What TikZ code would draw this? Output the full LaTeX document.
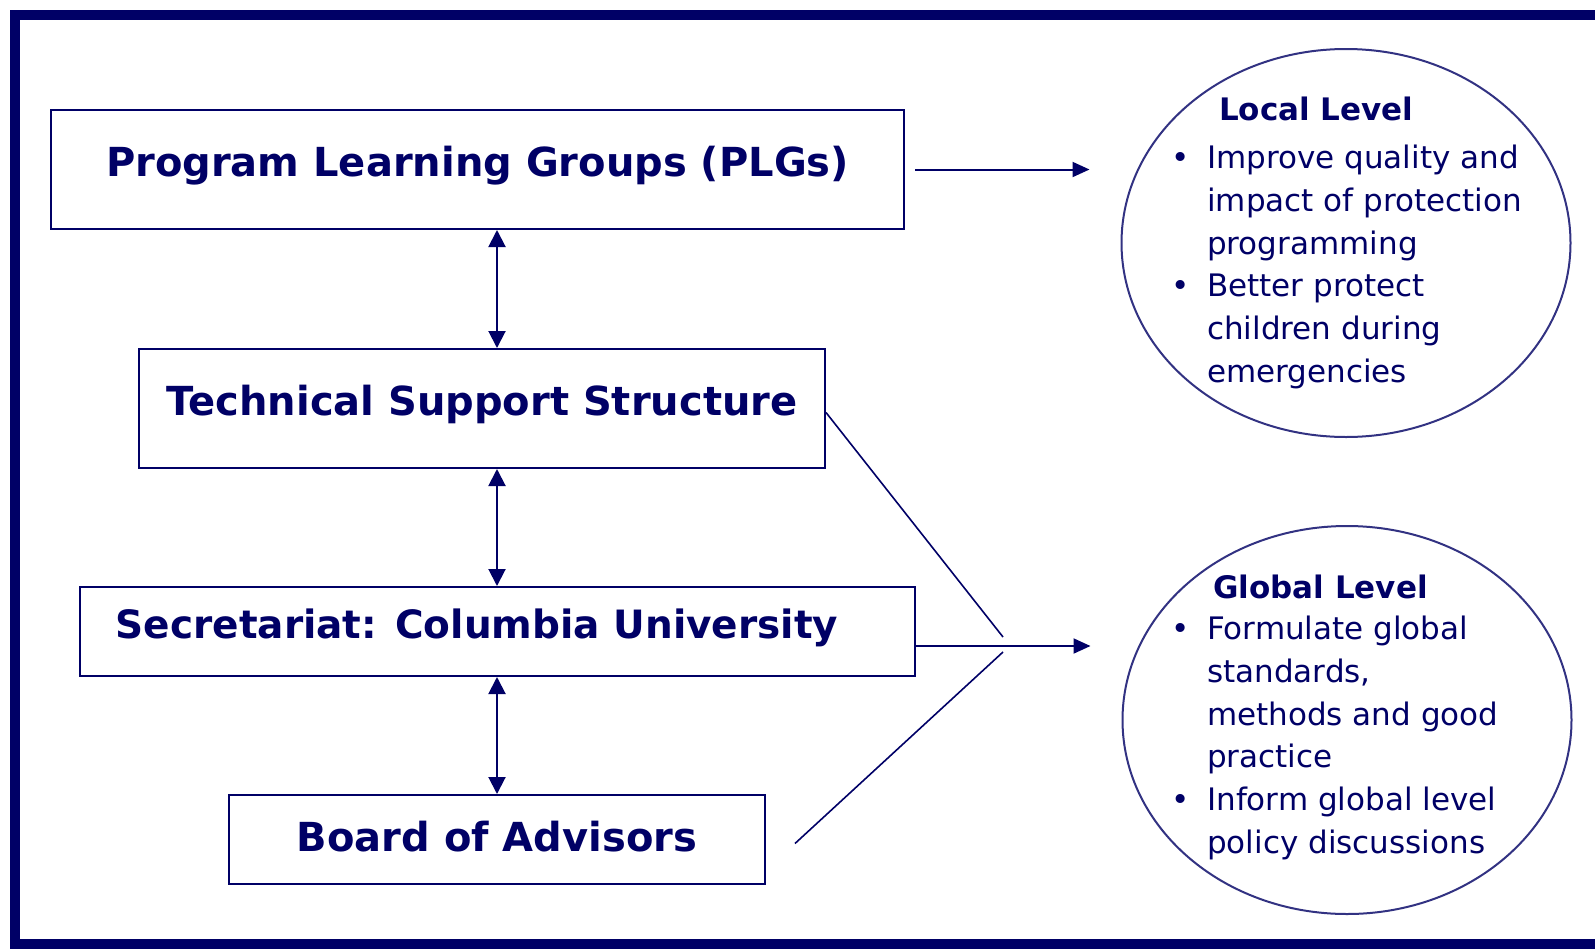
\documentclass[tikz,border=0pt]{standalone}
\usepackage{fontspec}
\setmainfont{DejaVu Sans}
\usetikzlibrary{arrows.meta}
\usetikzlibrary{shapes.geometric}
\definecolor{navy}{RGB}{0,0,102}
\definecolor{rimblue}{RGB}{50,50,130}
\tikzset{%
	frame/.style={line width=10pt,color=navy},
	unitbox/.style={draw=navy,line width=2pt,inner sep=0pt,text=navy,text height=29pt,text depth=15pt,font=\fontsize{40}{48}\selectfont\bfseries},
	levelbubble/.style={ellipse,draw=rimblue,line width=2pt,minimum width=449pt,minimum height=388pt},
	leveltext/.style={align=left,anchor=north west,inner sep=0pt,text=navy,font=\fontsize{31}{42.8}\selectfont},
	link/.style={navy,line width=2pt},
	dblarrow/.style={link,{Triangle[length=17pt,width=17pt]}-{Triangle[length=17pt,width=17pt]}},
	onearrow/.style={link,-{Triangle[length=17pt,width=15pt]}},
	slant/.style={navy,line width=1.6pt}
}
\newcommand{\bul}{\makebox[36pt][l]{\textbullet}}
\newcommand{\cont}{\hspace*{36pt}}

\begin{document}
\begin{tikzpicture}[x=1pt,y=-1pt]
		\useasboundingbox (0,0) rectangle (1595,948);

		\draw [frame] (1605,15)--(15,15)--(15,944)--(1605,944);

		\node [unitbox,minimum width=853pt,minimum height=119pt] (plg) at (477.5,169.5) {Program Learning Groups (PLGs)};
		\node [unitbox,minimum width=686pt,minimum height=119pt] (tss) at (482,408.5) {Technical Support Structure};
		\node [unitbox,minimum width=835pt,minimum height=89pt,font=\fontsize{39}{48}\selectfont\bfseries] (sec) at (497.5,631.5) {Secretariat: Columbia University\hspace*{41pt}\mbox{}};
		\node [unitbox,minimum width=536pt,minimum height=89pt,text depth=5pt] (board) at (497,839.5) {Board of Advisors};

		\node [levelbubble] (local) at (1346,243) {};
		\node [levelbubble] (global) at (1347,720) {};

		\node [leveltext] (localtxt) at (1171,97) {\hspace*{48pt}\textbf{Local Level}\\[5pt]
			\bul Improve quality and\\
			\cont impact of protection\\
			\cont programming\\
			\bul Better protect\\
			\cont children during\\
			\cont emergencies};
		\node [leveltext] (globaltxt) at (1171,575) {\hspace*{42pt}\textbf{Global Level}\\[-2pt]
			\bul Formulate global\\
			\cont standards,\\
			\cont methods and good\\
			\cont practice\\
			\bul Inform global level\\
			\cont policy discussions};

		\coordinate (spine) at (497,0);
		\coordinate (jtop) at (1003,637);
		\coordinate (jbot) at (1003,652);
		\coordinate (jmid) at (1003,646);

		\draw [dblarrow] (plg.south -| spine)--(tss.north -| spine);
		\draw [dblarrow] (tss.south -| spine)--(sec.north -| spine);
		\draw [dblarrow] (sec.south -| spine)--(board.north -| spine);

		\draw [onearrow,shorten <=10pt,shorten >=31pt] (plg.east)--(plg.east -| local.west);
		\draw [onearrow,shorten >=31pt] (jmid -| sec.east)--(jmid -| global.west);

		\draw [slant] ([yshift=-4pt]tss.east)--(jtop);
		\draw [slant] (jbot)--([xshift=29pt,yshift=-4pt]board.east);

	\end{tikzpicture}
\end{document}
